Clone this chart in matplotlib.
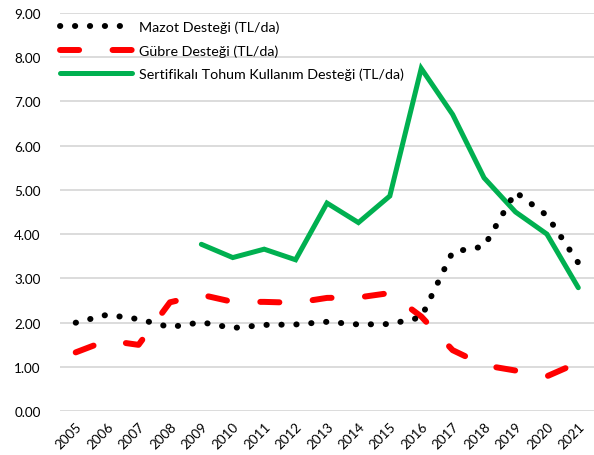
import matplotlib
matplotlib.use("Agg")
import matplotlib.pyplot as plt
import numpy as np

years = [str(y) for y in range(2005, 2022)]
mazot = [2.00, 2.18, 2.08, 1.90, 2.01, 1.88, 1.95, 1.96, 2.02, 1.96, 1.97, 2.12, 3.60, 3.72, 4.95, 4.42, 3.35]
gubre = [1.33, 1.60, 1.50, 2.46, 2.63, 2.47, 2.47, 2.45, 2.56, 2.57, 2.67, 2.14, 1.38, 1.04, 0.92, 0.79, 1.10]
tohum = [np.nan, np.nan, np.nan, np.nan, 3.77, 3.47, 3.66, 3.42, 4.70, 4.26, 4.86, 7.74, 6.70, 5.27, 4.50, 4.00, 2.79]
yticks = [0, 1, 2, 3, 4, 5, 6, 7, 8, 9]
labels = ["Mazot Desteği (TL/da)", "Gübre Desteği (TL/da)", "Sertifikalı Tohum Kullanım Desteği (TL/da)"]

plt.rcParams['font.family'] = ['Lato', 'DejaVu Sans']

fig = plt.figure(figsize=(5.94, 4.56), dpi=100)
ax = fig.add_axes([60/594, 43.7/456, 534/594, (412.3-13.6)/456])
x = np.arange(len(years))

ax.plot(x, mazot, color='black', lw=4.3, linestyle=(0, (0.05, 2.45)),
        dash_capstyle='round', label=labels[0], zorder=3)
ax.plot(x, gubre, color='#FF0000', lw=4.3, linestyle=(0, (3.2, 5.6)),
        dash_capstyle='round', label=labels[1], zorder=2)
ax.plot(x, tohum, color='#00B050', lw=3.6, solid_capstyle='round',
        solid_joinstyle='miter', label=labels[2], zorder=2)

ax.set_xlim(-0.5, len(years) - 0.5)
ax.set_ylim(0, 9)
ax.set_yticks(yticks)
ax.set_yticklabels([f"{v:.2f}" for v in yticks], fontsize=9.7)
ax.set_xticks(x)
ax.set_xticklabels(years, rotation=45, ha='right', rotation_mode='anchor', fontsize=9.7)
ax.tick_params(axis='both', length=0, colors='#000000')
ax.tick_params(axis='y', pad=14)
ax.tick_params(axis='x', pad=6)
ax.grid(axis='y', color='#D9D9D9', lw=1.3)
ax.set_axisbelow(True)
for s in ax.spines.values():
    s.set_visible(False)

leg = ax.legend(loc='upper left', bbox_to_anchor=(-0.01, 0.995), frameon=False,
                fontsize=10.3, handlelength=5.0, handletextpad=0.5, labelspacing=0.78,
                borderaxespad=0)

fig.savefig("out.png", dpi=100)
